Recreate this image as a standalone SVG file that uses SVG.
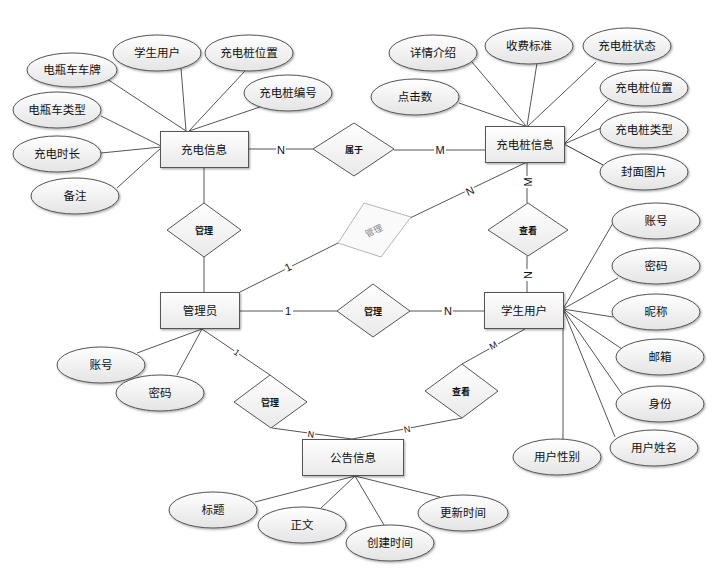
<svg xmlns="http://www.w3.org/2000/svg" width="722" height="572" viewBox="0 0 722 572">
<defs>
<linearGradient id="gf" x1="0" y1="0" x2="0" y2="1">
<stop offset="0" stop-color="#ffffff"/>
<stop offset="1" stop-color="#e4e4e4"/>
</linearGradient>
<linearGradient id="gr" x1="0" y1="0" x2="0" y2="1">
<stop offset="0" stop-color="#ffffff"/>
<stop offset="1" stop-color="#e9e9e9"/>
</linearGradient>
<filter id="sh" x="-10%" y="-10%" width="130%" height="140%">
<feDropShadow dx="1" dy="1.2" stdDeviation="0.8" flood-color="#000" flood-opacity="0.35"/>
</filter>
</defs>
<style>
text{font-family:"Liberation Sans","Noto Sans CJK SC",sans-serif;text-anchor:middle;fill:#111}
.t{font-size:11.5px}
.d{font-size:9px;font-weight:bold}
.l{font-size:11px}
.s{font-size:9px}
ellipse{fill:url(#gf);stroke:#555;stroke-width:1;filter:url(#sh)}
rect.e{fill:url(#gr);stroke:#555;stroke-width:1;filter:url(#sh)}
polygon{fill:url(#gr);stroke:#555;stroke-width:1}
.c line{stroke:#555;stroke-width:1}
.bg{fill:#fff}
</style>
<rect width="722" height="572" fill="#fff"/>
<g id="connectors" class="c">
<line x1="107" y1="79" x2="186" y2="131"/>
<line x1="181" y1="68" x2="186" y2="131"/>
<line x1="245" y1="71" x2="189" y2="131"/>
<line x1="260" y1="107" x2="189" y2="131"/>
<line x1="101" y1="116" x2="161" y2="146"/>
<line x1="101" y1="153" x2="161" y2="147"/>
<line x1="117" y1="188" x2="161" y2="148"/>
<line x1="248" y1="149" x2="313" y2="149"/>
<line x1="204" y1="167" x2="204" y2="203"/>
<line x1="204" y1="257" x2="204" y2="292"/>
<line x1="472" y1="62" x2="526" y2="126"/>
<line x1="537" y1="63" x2="527" y2="126"/>
<line x1="596" y1="62" x2="528" y2="126"/>
<line x1="459" y1="103" x2="525" y2="126"/>
<line x1="608" y1="100" x2="564" y2="144"/>
<line x1="601" y1="128" x2="564" y2="144"/>
<line x1="603" y1="165" x2="564" y2="144" style="stroke:#333"/>
<line x1="394" y1="150" x2="486" y2="150"/>
<line x1="527" y1="162" x2="527" y2="203"/>
<line x1="410" y1="218" x2="527" y2="162"/>
<line x1="240" y1="292" x2="338" y2="243"/>
<line x1="239" y1="311" x2="337" y2="311"/>
<line x1="410" y1="311" x2="484" y2="311"/>
<line x1="527" y1="256" x2="527" y2="292"/>
<line x1="613" y1="223" x2="563" y2="309"/>
<line x1="618" y1="278" x2="563" y2="309"/>
<line x1="613" y1="317" x2="563" y2="309"/>
<line x1="622" y1="349" x2="563" y2="309"/>
<line x1="622" y1="394" x2="563" y2="309"/>
<line x1="615" y1="437" x2="563" y2="309"/>
<line x1="563" y1="328" x2="563" y2="440"/>
<line x1="525" y1="329" x2="462" y2="364"/>
<line x1="462" y1="418" x2="352" y2="439"/>
<line x1="137" y1="353" x2="202" y2="329"/>
<line x1="177" y1="375" x2="202" y2="329"/>
<line x1="202" y1="329" x2="270" y2="375"/>
<line x1="272" y1="428" x2="352" y2="439"/>
<line x1="255" y1="502" x2="355" y2="476"/>
<line x1="321" y1="508" x2="355" y2="476"/>
<line x1="384" y1="525" x2="355" y2="476"/>
<line x1="440" y1="497" x2="355" y2="476"/>
</g>
<g id="labels">
<rect class="bg" x="276" y="143" width="10" height="12"/>
<text class="l" x="281" y="154">N</text>
<rect class="bg" x="434" y="144" width="12" height="12"/>
<text class="l" x="440" y="154">M</text>
<rect class="bg" x="522" y="176" width="12" height="12"/>
<text class="l" transform="translate(528,182) rotate(-90)" y="4">M</text>
<rect class="bg" x="522" y="269" width="12" height="12"/>
<text class="l" transform="translate(528,275) rotate(-90)" y="4">N</text>
<rect class="bg" x="283" y="305" width="10" height="12"/>
<text class="l" x="288" y="315">1</text>
<rect class="bg" x="442" y="305" width="11" height="12"/>
<text class="l" x="448" y="315">N</text>
<g transform="translate(288,267) rotate(-27)"><rect class="bg" x="-4" y="-6" width="8" height="12"/><text class="l" y="4">1</text></g>
<g transform="translate(470,191) rotate(-25)"><rect class="bg" x="-5" y="-6" width="10" height="12"/><text class="l" y="4">N</text></g>
<g transform="translate(493,345) rotate(-29)"><rect class="bg" x="-5" y="-5" width="10" height="10"/><text class="s" y="3.5">M</text></g>
<g transform="translate(237,352) rotate(34)"><rect class="bg" x="-3" y="-5" width="6" height="10"/><text class="s" y="3.5">1</text></g>
<g transform="translate(311,434) rotate(8)"><rect class="bg" x="-4" y="-5" width="8" height="10"/><text class="s" y="3.5">N</text></g>
<g transform="translate(407,429) rotate(-11)"><rect class="bg" x="-4" y="-5" width="8" height="10"/><text class="s" y="3.5">N</text></g>
</g>
<g id="rel-belong"><polygon points="313,149 354,123 394,149 354,176"/><text class="d" x="354" y="153">属于</text></g>
<g id="rel-manage1"><polygon points="167,230 204,203 241,230 204,257"/><text class="d" x="204" y="234">管理</text></g>
<g id="rel-manage2"><polygon points="364,203 411,217 381,257 338,243" style="fill:#fafafa;stroke:#b5b5b5"/><text class="d" transform="translate(374,231) rotate(-25)" y="3" style="fill:#888;font-weight:normal">管理</text></g>
<g id="rel-manage3"><polygon points="337,311 373,284 410,311 373,337"/><text class="d" x="373" y="315">管理</text></g>
<g id="rel-view1"><polygon points="488,230 528,203 568,230 528,256"/><text class="d" x="528" y="234">查看</text></g>
<g id="rel-manage4"><polygon points="234,402 270,375 307,402 271,428"/><text class="d" x="270" y="406">管理</text></g>
<g id="rel-view2"><polygon points="425,391 462,364 498,391 462,418"/><text class="d" x="461" y="395">查看</text></g>
<g id="ent-charge"><rect class="e" x="160.5" y="131.5" width="88" height="36"/><text class="t" x="204" y="154">充电信息</text></g>
<g id="ent-pile"><rect class="e" x="485.5" y="126.5" width="79" height="36"/><text class="t" x="525" y="149">充电桩信息</text></g>
<g id="ent-admin"><rect class="e" x="160.5" y="292.5" width="79" height="36"/><text class="t" x="200" y="315">管理员</text></g>
<g id="ent-student"><rect class="e" x="484.5" y="292.5" width="79" height="36"/><text class="t" x="524" y="315">学生用户</text></g>
<g id="ent-notice"><rect class="e" x="302.5" y="439.5" width="101" height="36"/><text class="t" x="353" y="462">公告信息</text></g>
<g id="a1"><ellipse cx="72" cy="70" rx="45" ry="17"/><text class="t" x="72" y="74">电瓶车车牌</text></g>
<g id="a2"><ellipse cx="157" cy="53" rx="44" ry="18"/><text class="t" x="157" y="57">学生用户</text></g>
<g id="a3"><ellipse cx="249" cy="53" rx="44" ry="18"/><text class="t" x="249" y="57">充电桩位置</text></g>
<g id="a4"><ellipse cx="288" cy="93" rx="44" ry="18"/><text class="t" x="288" y="97">充电桩编号</text></g>
<g id="a5"><ellipse cx="57" cy="110" rx="44" ry="18"/><text class="t" x="57" y="114">电瓶车类型</text></g>
<g id="a6"><ellipse cx="57" cy="154" rx="44" ry="18"/><text class="t" x="57" y="158">充电时长</text></g>
<g id="a7"><ellipse cx="75" cy="196" rx="44" ry="18"/><text class="t" x="75" y="200">备注</text></g>
<g id="b1"><ellipse cx="433" cy="53" rx="44" ry="18"/><text class="t" x="433" y="57">详情介绍</text></g>
<g id="b2"><ellipse cx="529" cy="46" rx="44" ry="18"/><text class="t" x="529" y="50">收费标准</text></g>
<g id="b3"><ellipse cx="627" cy="46" rx="44" ry="18"/><text class="t" x="627" y="50">充电桩状态</text></g>
<g id="b4"><ellipse cx="415" cy="97" rx="44" ry="18"/><text class="t" x="415" y="101">点击数</text></g>
<g id="b5"><ellipse cx="644" cy="88" rx="44" ry="18"/><text class="t" x="644" y="92">充电桩位置</text></g>
<g id="b6"><ellipse cx="644" cy="130" rx="44" ry="18"/><text class="t" x="644" y="134">充电桩类型</text></g>
<g id="b7"><ellipse cx="644" cy="172" rx="44" ry="18"/><text class="t" x="644" y="176">封面图片</text></g>
<g id="c1"><ellipse cx="656" cy="221" rx="44" ry="18"/><text class="t" x="656" y="225">账号</text></g>
<g id="c2"><ellipse cx="656" cy="266" rx="44" ry="18"/><text class="t" x="656" y="270">密码</text></g>
<g id="c3"><ellipse cx="656" cy="312" rx="44" ry="18"/><text class="t" x="656" y="316">昵称</text></g>
<g id="c4"><ellipse cx="660" cy="357" rx="44" ry="18"/><text class="t" x="660" y="361">邮箱</text></g>
<g id="c5"><ellipse cx="660" cy="404" rx="44" ry="18"/><text class="t" x="660" y="408">身份</text></g>
<g id="c6"><ellipse cx="654" cy="448" rx="44" ry="18"/><text class="t" x="654" y="452">用户姓名</text></g>
<g id="c7"><ellipse cx="557" cy="457" rx="44" ry="18"/><text class="t" x="557" y="461">用户性别</text></g>
<g id="d1"><ellipse cx="101" cy="365" rx="44" ry="18"/><text class="t" x="101" y="369">账号</text></g>
<g id="d2"><ellipse cx="160" cy="393" rx="44" ry="18"/><text class="t" x="160" y="397">密码</text></g>
<g id="e1"><ellipse cx="213" cy="510" rx="44" ry="18"/><text class="t" x="213" y="514">标题</text></g>
<g id="e2"><ellipse cx="302" cy="525" rx="44" ry="18"/><text class="t" x="302" y="529">正文</text></g>
<g id="e3"><ellipse cx="390" cy="543" rx="44" ry="18"/><text class="t" x="390" y="547">创建时间</text></g>
<g id="e4"><ellipse cx="463" cy="513" rx="45" ry="18"/><text class="t" x="463" y="517">更新时间</text></g>
</svg>
